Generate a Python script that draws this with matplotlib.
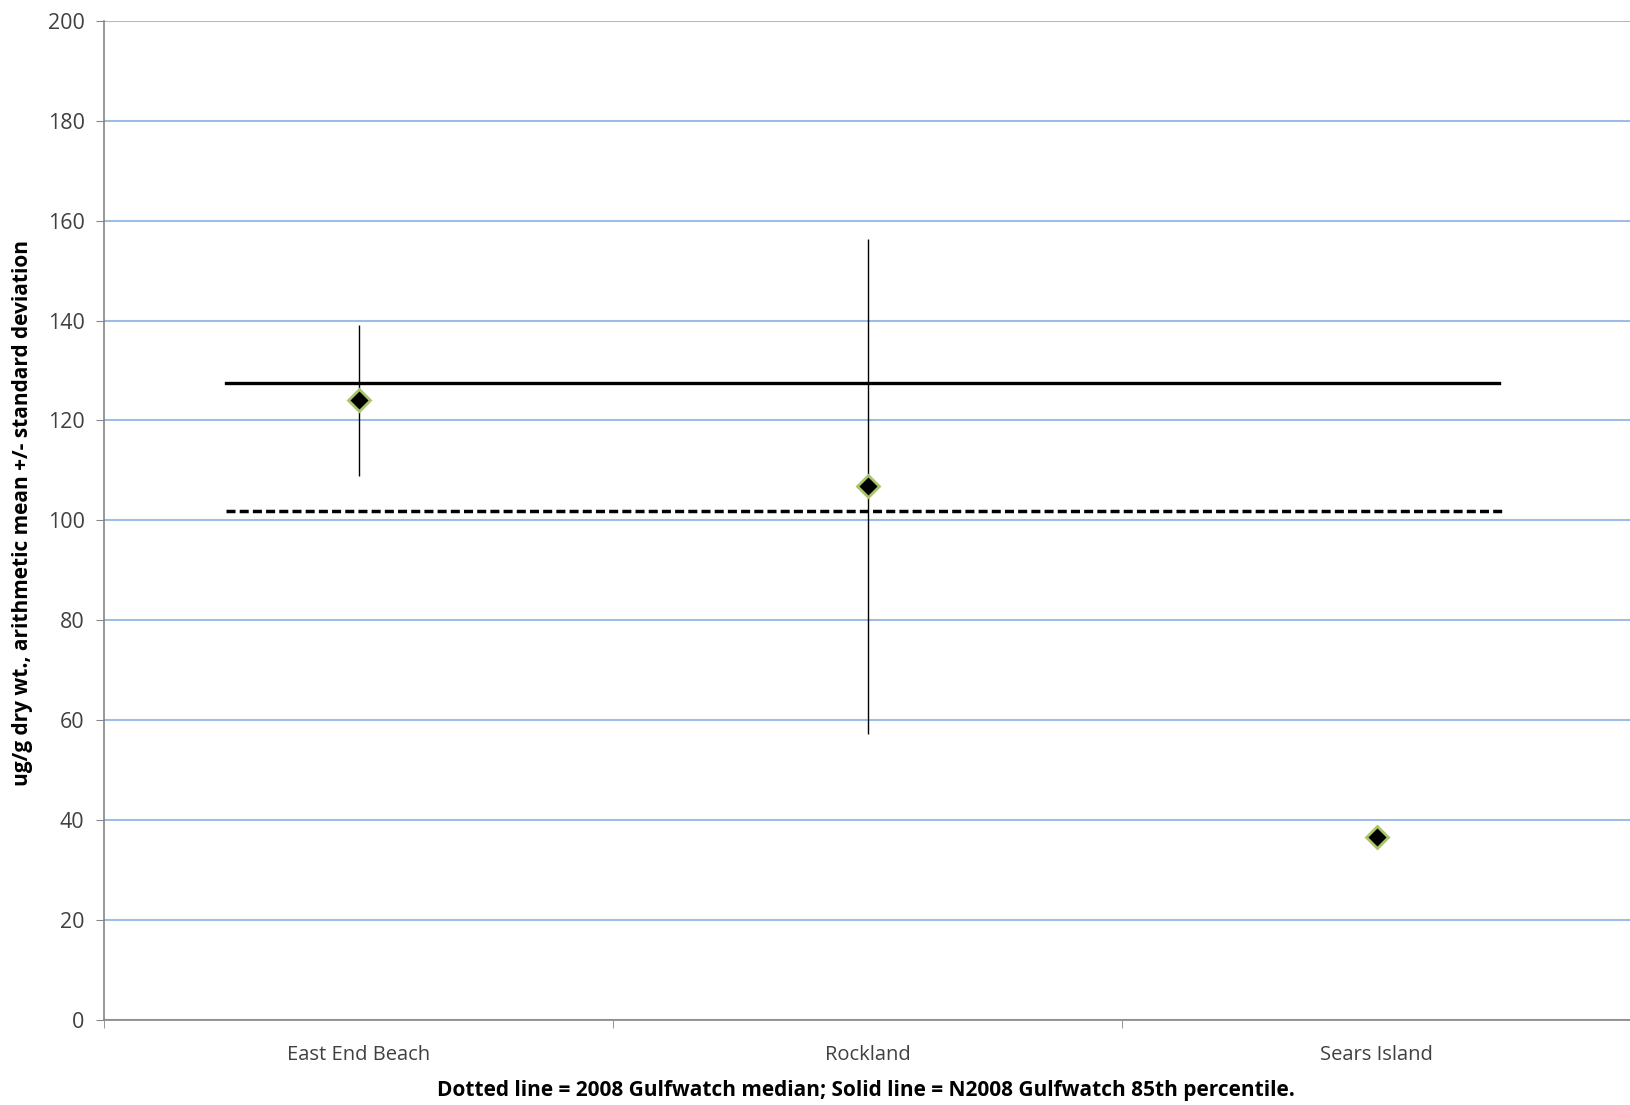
import matplotlib.pyplot as plt

sites = ["East End Beach", "Rockland", "Sears Island"]
means = [124.0, 106.8, 36.6]
sds = [15.1, 49.5, 0.0]

# reference lines: value and x extent (in category units)
p85_value = 127.6
p85_span = [-0.26, 2.24]
median_value = 101.8
median_span = [-0.26, 2.25]

yticks = [0, 20, 40, 60, 80, 100, 120, 140, 160, 180, 200]

plt.rcParams['font.family'] = ['Open Sans', 'DejaVu Sans']

fig = plt.figure(figsize=(16.31, 11.05), dpi=100)
ax = fig.add_axes([0.0638, 0.0769, 0.9362, 0.9043])

x = list(range(len(sites)))

ax.grid(axis='y', color='#9dbde6', linewidth=1.5, zorder=0)
ax.set_axisbelow(True)

ax.plot(p85_span, [p85_value, p85_value], color='black', linewidth=2.4, zorder=2)
ax.plot(median_span, [median_value, median_value], color='black', linewidth=2.5,
        linestyle=(0, (2.6, 1.2)), zorder=2)

ax.errorbar(x, means, yerr=sds, fmt='none', ecolor='black', elinewidth=1.0,
            capsize=0, zorder=3)
ax.plot(x, means, linestyle='none', marker='D', markersize=11.5,
        markerfacecolor='black', markeredgecolor='#a9c46a', markeredgewidth=2.0,
        zorder=4)

ax.set_xlim(-0.5, 2.5)
ax.set_ylim(0, 200)
ax.set_yticks(yticks)
ax.set_xticks(x)
ax.set_xticklabels(sites, fontsize=14.5)
ax.set_xticks([-0.5, 0.5, 1.5, 2.5], minor=True)
ax.tick_params(axis='x', which='major', length=0, pad=18)
ax.tick_params(axis='x', which='minor', length=6, color='#868686')
ax.tick_params(axis='y', length=6, color='#868686', labelsize=15.5, pad=8)
for lab in ax.get_xticklabels() + ax.get_yticklabels():
    lab.set_color('#404040')

for side in ['top', 'right']:
    ax.spines[side].set_visible(False)
for side in ['left', 'bottom']:
    ax.spines[side].set_color('#868686')
    ax.spines[side].set_linewidth(1.2)

fig.text(0.0135, 0.5355, "ug/g dry wt., arithmetic mean +/- standard deviation",
         rotation=90, ha='center', va='center', fontsize=15, fontweight='bold')
fig.text(0.531, 0.0135, "Dotted line = 2008 Gulfwatch median; Solid line = N2008 Gulfwatch 85th percentile.",
         ha='center', va='center', fontsize=15, fontweight='bold')

fig.savefig("out.png", dpi=100)
